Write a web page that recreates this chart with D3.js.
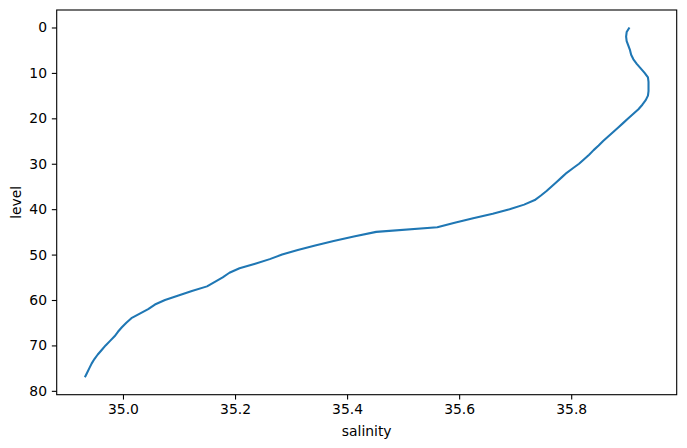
<!DOCTYPE html>
<html>
<head>
<meta charset="utf-8">
<script src="https://cdn.jsdelivr.net/npm/d3@7"></script>
<style>
  html, body { margin: 0; padding: 0; background: #fff; }
  svg { display: block; font-family: "DejaVu Sans", sans-serif; }
</style>
</head>
<body>
<svg id="chart" width="687" height="448"></svg>
<script>
// Data: salinity at each level 0..77
const levels = d3.range(0, 78);
const salinity = [
  35.904, 35.899, 35.898, 35.899, 35.902, 35.905, 35.907, 35.911, 35.917, 35.924,
  35.931, 35.937, 35.938, 35.938, 35.938, 35.937, 35.933, 35.927, 35.920, 35.911,
  35.902, 35.893, 35.884, 35.875, 35.866, 35.857, 35.849, 35.840, 35.832, 35.823,
  35.814, 35.803, 35.792, 35.783, 35.774, 35.765, 35.756, 35.746, 35.735, 35.716,
  35.690, 35.660, 35.625, 35.592, 35.561, 35.452, 35.412, 35.376, 35.343, 35.312,
  35.284, 35.262, 35.236, 35.208, 35.190, 35.178, 35.164, 35.150, 35.123, 35.099,
  35.075, 35.057, 35.045, 35.030, 35.015, 35.006, 34.998, 34.991, 34.985, 34.977,
  34.969, 34.962, 34.955, 34.949, 34.944, 34.940, 34.936, 34.932
];
const xTicks = [35.0, 35.2, 35.4, 35.6, 35.8];
const yTicks = [0, 10, 20, 30, 40, 50, 60, 70, 80];

const data = levels.map((l, i) => ({ level: l, sal: salinity[i] }));

const svg = d3.select("#chart");
const mLeft = 56.7, mTop = 10, mRight = 676.7, mBottom = 394.7;

const sMin = d3.min(salinity), sMax = d3.max(salinity);
const sPad = (sMax - sMin) * 0.05;
const lMin = d3.min(levels), lMax = d3.max(levels);
const lPad = (lMax - lMin) * 0.05;

const x = d3.scaleLinear().domain([sMin - sPad, sMax + sPad]).range([mLeft, mRight]);
const y = d3.scaleLinear().domain([lMin - lPad, lMax + lPad]).range([mTop, mBottom]);

const fontSize = "13.9px";

// Line
svg.append("path")
  .datum(data)
  .attr("fill", "none")
  .attr("stroke", "#1f77b4")
  .attr("stroke-width", 2.08)
  .attr("stroke-linejoin", "round")
  .attr("stroke-linecap", "butt")
  .attr("d", d3.line().x(d => x(d.sal)).y(d => y(d.level)));

// Axes
const xAxis = svg.append("g")
  .attr("transform", `translate(0,${mBottom})`)
  .call(d3.axisBottom(x).tickValues(xTicks).tickFormat(d3.format(".1f")).tickSize(4.86).tickPadding(4.86).tickSizeOuter(0));
const yAxis = svg.append("g")
  .attr("transform", `translate(${mLeft},0)`)
  .call(d3.axisLeft(y).tickValues(yTicks).tickFormat(d3.format("d")).tickSize(4.86).tickPadding(4.86).tickSizeOuter(0));

[xAxis, yAxis].forEach(g => {
  g.select(".domain").remove();
  g.selectAll(".tick line").attr("stroke", "#000").attr("stroke-width", 1.1);
  g.selectAll(".tick text").attr("fill", "#000").style("font-size", fontSize).style("font-family", "DejaVu Sans");
});

// Frame
svg.append("rect")
  .attr("x", mLeft).attr("y", mTop)
  .attr("width", mRight - mLeft).attr("height", mBottom - mTop)
  .attr("fill", "none").attr("stroke", "#000").attr("stroke-width", 1.1);

// Labels
svg.append("text")
  .attr("x", (mLeft + mRight) / 2).attr("y", 436)
  .attr("text-anchor", "middle")
  .style("font-size", fontSize)
  .text("salinity");

svg.append("text")
  .attr("transform", `translate(21,${(mTop + mBottom) / 2}) rotate(-90)`)
  .attr("text-anchor", "middle")
  .style("font-size", fontSize)
  .text("level");
</script>
</body>
</html>
